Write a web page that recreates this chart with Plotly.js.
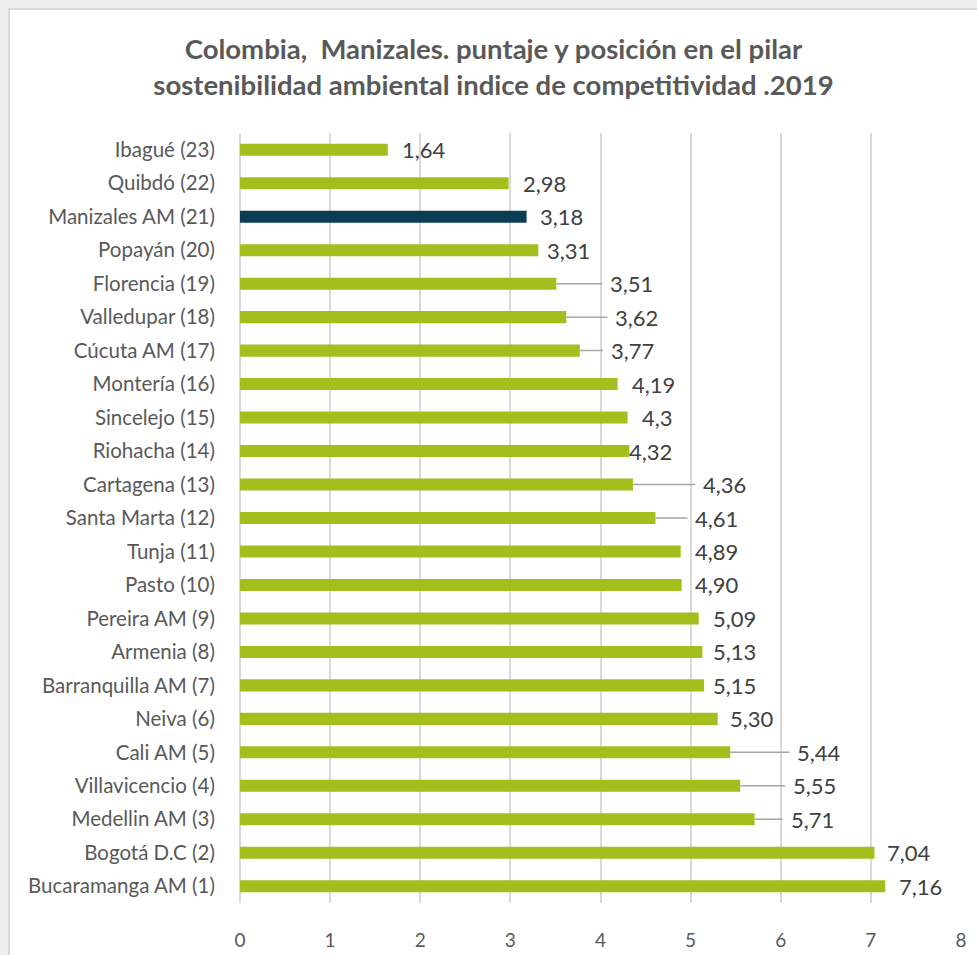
<!DOCTYPE html>
<html>
<head>
<meta charset="utf-8">
<script src="https://cdn.plot.ly/plotly-3.0.1.min.js"></script>
<style>
  html, body { margin: 0; padding: 0; background: #ededef; width: 977px; height: 955px; overflow: hidden; }
  #frame { position: absolute; left: 8px; top: 8px; width: 967px; height: 945px; border-left: 2px solid #d9d9d9; border-top: 2px solid #d9d9d9; background: #fff; }
  #chart { width: 967px; height: 945px; }
</style>
</head>
<body>
<div id="frame"><div id="chart"></div></div>
<script>
// ---- data (top to bottom as in the chart) ----
const cities = [
  "Ibagué (23)", "Quibdó (22)", "Manizales AM (21)", "Popayán (20)", "Florencia (19)",
  "Valledupar (18)", "Cúcuta AM (17)", "Montería (16)", "Sincelejo (15)", "Riohacha (14)",
  "Cartagena (13)", "Santa Marta (12)", "Tunja (11)", "Pasto (10)", "Pereira AM (9)",
  "Armenia (8)", "Barranquilla AM (7)", "Neiva (6)", "Cali AM (5)", "Villavicencio (4)",
  "Medellin AM (3)", "Bogotá D.C (2)", "Bucaramanga AM (1)"
];
const scores = [
  1.64, 2.98, 3.18, 3.31, 3.51,
  3.62, 3.77, 4.19, 4.30, 4.32,
  4.36, 4.61, 4.89, 4.90, 5.09,
  5.13, 5.15, 5.30, 5.44, 5.55,
  5.71, 7.04, 7.16
];
const valueLabels = [
  "1,64", "2,98", "3,18", "3,31", "3,51",
  "3,62", "3,77", "4,19", "4,3", "4,32",
  "4,36", "4,61", "4,89", "4,90", "5,09",
  "5,13", "5,15", "5,30", "5,44", "5,55",
  "5,71", "7,04", "7,16"
];
const highlightCity = "Manizales AM (21)";
const xTicks = [0, 1, 2, 3, 4, 5, 6, 7, 8];

// ---- label placement (styling: pixel offsets from bar end; leader = line drawn) ----
const labelOffsetPx = [12, 12, 11, 7, 46, 41, 23, 12, 12, -2, 62, 32, 12, 11, 12, 9, 7, 10, 59, 45, 28, 11, 12];
const labelLeader   = [0, 0, 0, 0, 1, 1, 1, 0, 0, 0, 1, 1, 0, 0, 0, 0, 0, 0, 1, 1, 1, 0, 0];
const leaderGapPx = 6;

const GREEN = "#a5be1e";
const NAVY = "#0b3d55";
const TXT = "#595959";
const FONT = "Lato, 'Open Sans', sans-serif";

const barColors = cities.map(c => c === highlightCity ? NAVY : GREEN);

const trace = {
  type: "bar",
  orientation: "h",
  y: cities,
  x: scores,
  marker: { color: barColors, line: { width: 0 } },
  hoverinfo: "x+y"
};

const annotations = cities.map((c, i) => {
  const base = {
    x: scores[i], y: c, xref: "x", yref: "y",
    text: valueLabels[i],
    xanchor: "left", yanchor: "middle",
    font: { family: FONT, size: 22, color: "#404040" }
  };
  if (labelLeader[i]) {
    return Object.assign(base, {
      showarrow: true, arrowhead: 0, arrowwidth: 1.5, arrowcolor: "#a6a6a6",
      standoff: 0, startstandoff: leaderGapPx,
      ax: labelOffsetPx[i] + leaderGapPx, ay: 0, axref: "pixel", ayref: "pixel"
    });
  }
  return Object.assign(base, { showarrow: false, xshift: labelOffsetPx[i] });
});

const layout = {
  width: 967, height: 945,
  paper_bgcolor: "#ffffff", plot_bgcolor: "#ffffff",
  margin: { l: 230, r: 16, t: 123, b: 52 },
  font: { family: FONT, color: TXT },
  title: {
    text: "<b>Colombia,  Manizales. puntaje y posición en el pilar<br>sostenibilidad ambiental indice de competitividad .2019</b>",
    font: { family: FONT, size: 27.5, color: TXT },
    x: 0.5, xanchor: "center", y: 0.948, yanchor: "top", yref: "container"
  },
  bargap: 0.64,
  showlegend: false,
  xaxis: {
    range: [0, 8], tickvals: xTicks, ticktext: xTicks.map(String),
    showgrid: true, gridcolor: "#d9d9d9", gridwidth: 2,
    zeroline: true, zerolinecolor: "#d9d9d9", zerolinewidth: 2,
    showline: false,
    ticks: "outside", ticklen: 20, tickcolor: "rgba(0,0,0,0)",
    tickfont: { family: FONT, size: 19, color: TXT },
    fixedrange: true
  },
  yaxis: {
    autorange: "reversed", type: "category",
    showgrid: false, zeroline: false, showline: false,
    ticks: "outside", ticklen: 20, tickcolor: "rgba(0,0,0,0)",
    tickfont: { family: FONT, size: 20.5, color: TXT },
    fixedrange: true
  },
  annotations: annotations
};

Plotly.newPlot("chart", [trace], layout, { displayModeBar: false, staticPlot: true });
</script>
</body>
</html>
